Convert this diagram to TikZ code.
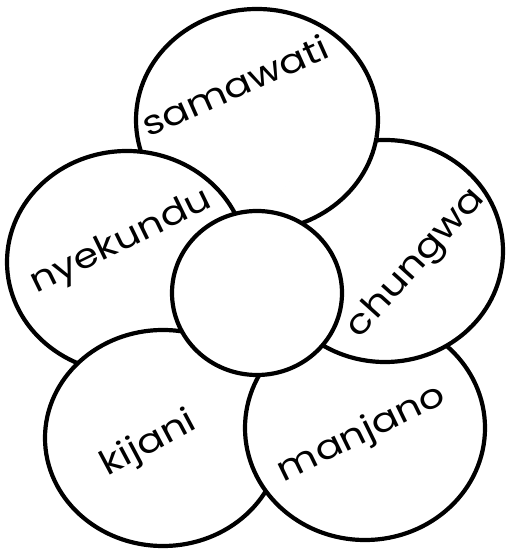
\documentclass[tikz,border=0pt]{standalone}
\usepackage{fontspec}
\usepackage{tikz}
\usetikzlibrary{shapes.geometric}
\newfontfamily\petalface[FakeStretch=1.18]{Poppins}
\newcommand\petalfont{\petalface\fontsize{34}{36}\selectfont}

\begin{document}
\begin{tikzpicture}[x=1pt,y=1pt,
      p/.style={draw,fill=white,ellipse,line width=4.2pt,inner sep=0pt},
      w/.style={font=\petalfont,anchor=base,inner sep=0pt}]
      \useasboundingbox (0,0) rectangle (507,551);
      \node[p,minimum width=242,minimum height=222] (samawati) at (257,431) {};
      \node[p,minimum width=240,minimum height=222] (nyekundu) at (127,289) {};
      \node[p,minimum width=236,minimum height=216] (kijani) at (163,113) {};
      \node[p,minimum width=240,minimum height=224] (manjano) at (365,123) {};
      \node[p,minimum width=236,minimum height=222] (chungwa) at (385,300) {};
      % samawati lies over chungwa
      \begin{scope}
        \clip (chungwa.center) ellipse [x radius=121,y radius=114];
        \node[p,minimum width=242,minimum height=222] at (samawati.center) {};
      \end{scope}
      \node[p,minimum width=170,minimum height=164] (kati) at (257,258) {};
      \node[w,rotate=24] (t1) at (240,454) {samawati};
      \node[w,rotate=26] (t2) at (125,301) {nyekundu};
      \node[w,rotate=48] (t3) at (423,282) {chungwa};
      \node[w,rotate=28] (t4) at (153,99) {kijani};
      \node[w,rotate=26] (t5) at (366,109) {manjano};
    \end{tikzpicture}
\end{document}
